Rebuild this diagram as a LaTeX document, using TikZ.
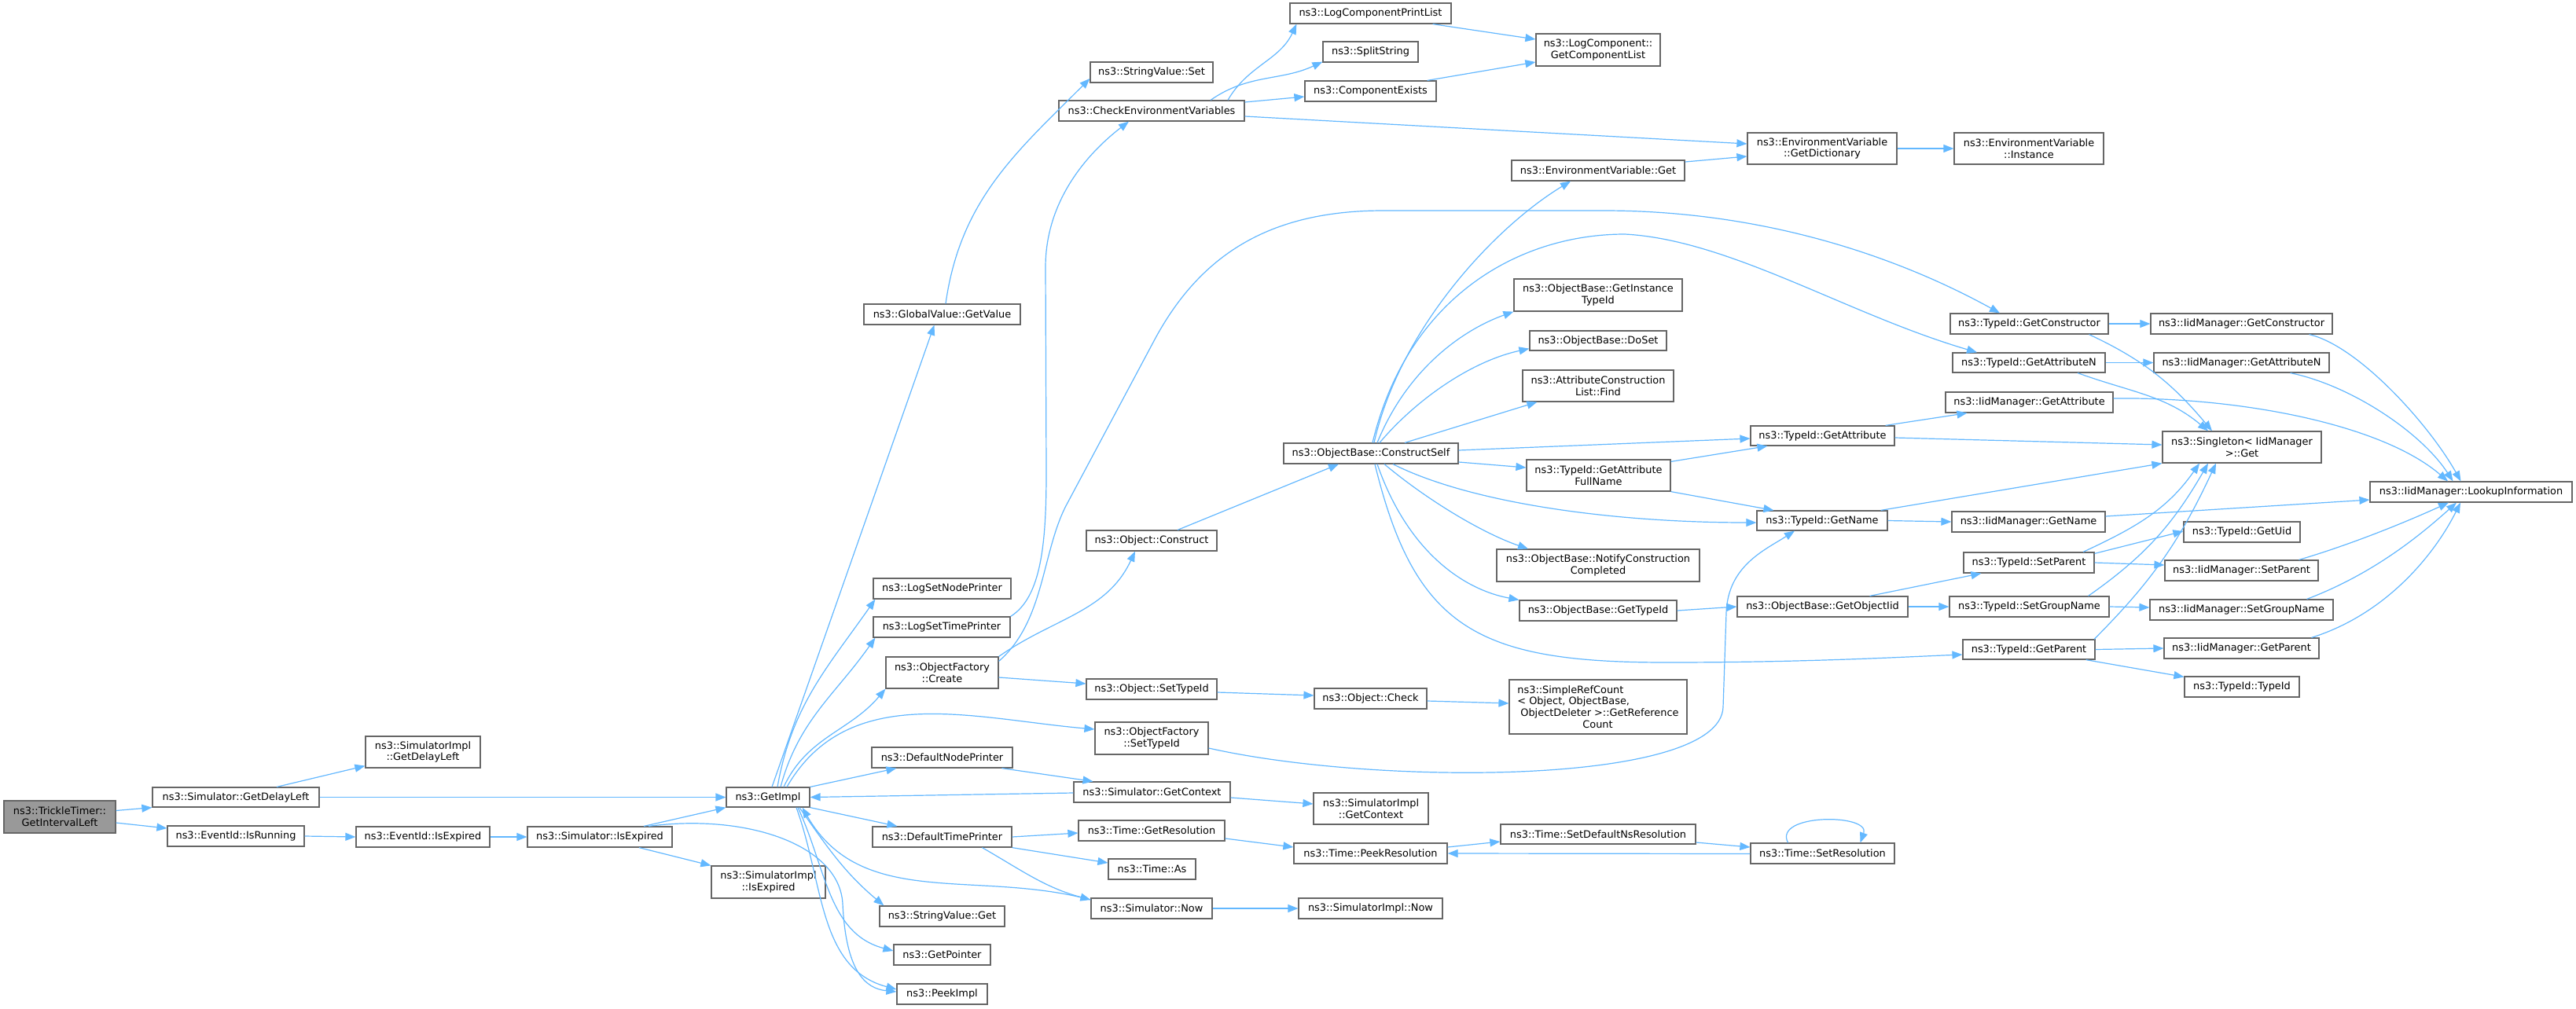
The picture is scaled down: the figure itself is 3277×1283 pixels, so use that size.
\documentclass[tikz,border=0pt]{standalone}
\usepackage{fontspec}
\setmainfont{DejaVu Sans}
\usetikzlibrary{arrows.meta}
\definecolor{edgec}{HTML}{63B8FF}
\definecolor{boxc}{HTML}{666666}
\definecolor{hlfill}{HTML}{999999}
\tikzset{
 nbox/.style={draw=boxc, fill=white, line width=1.2pt, inner sep=0pt, align=center, font=\fontsize{12.9}{14.7}\selectfont},
 cedge/.style={draw=edgec, line width=1.2pt, -{Triangle[length=13pt,width=10pt]}}
}
\newcommand\bx[7][]{\node[nbox,#1,minimum width={(#5)-(#3)},minimum height={(#6)-(#4)}] (#2) at ({((#3)+(#5))/2},{-((#4)+(#6))/2}) {#7};}
\begin{document}
\begin{tikzpicture}[x=1pt,y=1pt]
\useasboundingbox (0,0) rectangle (3277,-1283);
\fill[white] (0,0) rectangle (3277,-1283);
% nodes
\bx[fill=hlfill]{tt}{5}{1019}{147}{1060}{ns3::TrickleTimer::\\GetIntervalLeft}
\bx{sgdl}{194}{1002}{406}{1027}{ns3::Simulator::GetDelayLeft}
\bx{eir}{213}{1051}{387}{1077}{ns3::EventId::IsRunning}
\bx{sigdl}{465}{937}{611}{977}{ns3::SimulatorImpl\\::GetDelayLeft}
\bx{eie}{453}{1052}{623}{1078}{ns3::EventId::IsExpired}
\bx{sie}{671}{1052}{855}{1078}{ns3::Simulator::IsExpired}
\bx{gi}{924}{1002}{1030}{1027}{ns3::GetImpl}
\bx{siie}{905}{1102}{1050}{1143}{ns3::SimulatorImpl\\::IsExpired}
\bx{ofc}{1127}{836}{1270}{876}{ns3::ObjectFactory\\::Create}
\bx{ost}{1382}{864}{1548}{890}{ns3::Object::SetTypeId}
\bx{oc}{1672}{876}{1815}{902}{ns3::Object::Check}
\bx{ofst}{1393}{919}{1537}{960}{ns3::ObjectFactory\\::SetTypeId}
\bx{dnp}{1109}{951}{1288}{977}{ns3::DefaultNodePrinter}
\bx{sgc}{1366}{995}{1565}{1021}{ns3::Simulator::GetContext}
\bx{sigc}{1671}{1009}{1817}{1049}{ns3::SimulatorImpl\\::GetContext}
\bx{dtp}{1110}{1052}{1287}{1078}{ns3::DefaultTimePrinter}
\bx{tgr}{1372}{1044}{1558}{1070}{ns3::Time::GetResolution}
\bx{tpr}{1646}{1073}{1841}{1099}{ns3::Time::PeekResolution}
\bx{tas}{1410}{1093}{1521}{1119}{ns3::Time::As}
\bx{sn}{1388}{1143}{1542}{1169}{ns3::Simulator::Now}
\bx{sin}{1652}{1143}{1835}{1169}{ns3::SimulatorImpl::Now}
\bx{svg}{1119}{1153}{1278}{1179}{ns3::StringValue::Get}
\bx{gp}{1137}{1202}{1260}{1228}{ns3::GetPointer}
\bx{pi}{1141}{1252}{1256}{1278}{ns3::PeekImpl}
\bx{lcpl}{1641}{4}{1846}{30}{ns3::LogComponentPrintList}
\bx{ss}{1683}{53}{1804}{79}{ns3::SplitString}
\bx{lcgcl}{1954}{43}{2112}{84}{ns3::LogComponent::\\GetComponentList}
\bx{svs}{1387}{79}{1543}{105}{ns3::StringValue::Set}
\bx{ce}{1660}{103}{1827}{129}{ns3::ComponentExists}
\bx{cev}{1347}{128}{1583}{154}{ns3::CheckEnvironmentVariables}
\bx{evg}{1923}{204}{2143}{230}{ns3::EnvironmentVariable::Get}
\bx{evgd}{2223}{169}{2413}{209}{ns3::EnvironmentVariable\\::GetDictionary}
\bx{evi}{2486}{169}{2676}{209}{ns3::EnvironmentVariable\\::Instance}
\bx{obgit}{1926}{355}{2140}{396}{ns3::ObjectBase::GetInstance\\TypeId}
\bx{obds}{1946}{421}{2120}{446}{ns3::ObjectBase::DoSet}
\bx{gvgv}{1099}{387}{1298}{413}{ns3::GlobalValue::GetValue}
\bx{tgc}{2481}{399}{2682}{425}{ns3::TypeId::GetConstructor}
\bx{igc}{2736}{399}{2967}{425}{ns3::IidManager::GetConstructor}
\bx{tgan}{2484}{449}{2678}{474}{ns3::TypeId::GetAttributeN}
\bx{igan}{2740}{449}{2963}{474}{ns3::IidManager::GetAttributeN}
\bx{lsnp}{1111}{736}{1286}{762}{ns3::LogSetNodePrinter}
\bx{lstp}{1111}{785}{1285}{811}{ns3::LogSetTimePrinter}
\bx{ocon}{1382}{675}{1548}{701}{ns3::Object::Construct}
\bx{obcs}{1633}{564}{1855}{590}{ns3::ObjectBase::ConstructSelf}
\bx{acl}{1937}{471}{2129}{511}{ns3::AttributeConstruction\\List::Find}
\bx{tga}{2227}{542}{2410}{567}{ns3::TypeId::GetAttribute}
\bx{tgafn}{1942}{585}{2125}{625}{ns3::TypeId::GetAttribute\\FullName}
\bx{tgn}{2235}{650}{2401}{675}{ns3::TypeId::GetName}
\bx{obncc}{1904}{699}{2162}{740}{ns3::ObjectBase::NotifyConstruction\\Completed}
\bx{obgt}{1933}{764}{2133}{790}{ns3::ObjectBase::GetTypeId}
\bx{obgo}{2210}{759}{2427}{785}{ns3::ObjectBase::GetObjectIid}
\bx[align=left]{srcc}{1920}{865}{2146}{934}{ns3::SimpleRefCount\\< Object, ObjectBase,\\\hspace*{4pt}ObjectDeleter >::GetReference\\\hspace*{83pt}Count}
\bx{iga}{2475}{499}{2688}{525}{ns3::IidManager::GetAttribute}
\bx{sgt}{2751}{549}{2953}{589}{ns3::Singleton< IidManager\\ >::Get}
\bx{ili}{3015}{613}{3272}{639}{ns3::IidManager::LookupInformation}
\bx{ign}{2483}{651}{2678}{677}{ns3::IidManager::GetName}
\bx{tgu}{2778}{664}{2926}{690}{ns3::TypeId::GetUid}
\bx{tsp}{2498}{703}{2664}{729}{ns3::TypeId::SetParent}
\bx{isp}{2754}{713}{2949}{739}{ns3::IidManager::SetParent}
\bx{tsgn}{2480}{759}{2683}{785}{ns3::TypeId::SetGroupName}
\bx{isgn}{2735}{763}{2968}{789}{ns3::IidManager::SetGroupName}
\bx{tgp}{2497}{814}{2665}{839}{ns3::TypeId::GetParent}
\bx{igp}{2753}{812}{2950}{838}{ns3::IidManager::GetParent}
\bx{tti}{2779}{861}{2925}{887}{ns3::TypeId::TypeId}
\bx{tsdnr}{1909}{1049}{2157}{1074}{ns3::Time::SetDefaultNsResolution}
\bx{tsr}{2227}{1073}{2410}{1099}{ns3::Time::SetResolution}
% edges
\draw[cedge] ([yshift=8pt]tt.east) -- (sgdl.south west);
\draw[cedge] ([yshift=-7.5pt]tt.east) -- ([yshift=10pt]eir.west);
\draw[cedge] ([xshift=52pt]sgdl.north) -- ([yshift=3pt]sigdl.south west);
\draw[cedge] (sgdl.east) -- (gi.west);
\draw[cedge] (eir.east) -- (eie.west);
\draw[cedge] (eie.east) -- (sie.west);
\draw[cedge] ([xshift=56pt]sie.north) -- (gi.south west);
\draw[cedge] ([xshift=50pt]sie.south) -- (siie.north west);
\draw[cedge] ([xshift=62pt]sie.north) .. controls (950,-1035) and (1068,-1075) .. (1072,-1150) .. controls (1076,-1235) and (1100,-1258) .. ([yshift=3pt]pi.west);
\draw[cedge] ([xshift=5pt]gi.north) -- ([xshift=-10pt]gvgv.south);
\draw[cedge] ([xshift=12pt]gi.north) to[out=80,in=235] ([xshift=3pt]lsnp.south west);
\draw[cedge] ([xshift=16pt]gi.north) to[out=75,in=235] ([xshift=3pt]lstp.south west);
\draw[cedge] ([xshift=20pt]gi.north) to[out=65,in=230] (ofc.south west);
\draw[cedge] ([xshift=24pt]gi.north) to[out=60,in=175] ([yshift=11.5pt]ofst.west);
\draw[cedge] (gi.north east) -- ([xshift=32pt]dnp.south west);
\draw[cedge] (gi.south east) -- ([xshift=32pt]dtp.north west);
\draw[cedge] ([xshift=40pt]gi.south) to[out=-55,in=140] ([xshift=6pt]svg.north west);
\draw[cedge] ([xshift=38pt]gi.south) to[out=-65,in=165] ([yshift=5pt]gp.west);
\draw[cedge] ([xshift=36pt]gi.south) to[out=-70,in=165] ([yshift=6pt]pi.west);
\draw[cedge] ([yshift=-1pt]sgc.west) -- (gi.east);
\draw[cedge] ([yshift=11pt]sn.west) to[out=165,in=-60] ([xshift=-10pt]gi.south east);
\draw[cedge] ([xshift=76pt]dnp.south) -- ([xshift=-75pt]sgc.north);
\draw[cedge] ([yshift=-7pt]sgc.east) -- ([yshift=6pt]sigc.west);
\draw[cedge] (dtp.east) -- ([yshift=-3pt]tgr.west);
\draw[cedge] (dtp.south east) -- ([yshift=8pt]tas.west);
\draw[cedge] ([xshift=51pt]dtp.south) to[out=-30,in=165] ([yshift=11pt]sn.west);
\draw[cedge] ([yshift=-10pt]tgr.east) -- ([yshift=8pt]tpr.west);
\draw[cedge] (sn.east) -- (sin.west);
\draw[cedge] ([yshift=8pt]tpr.east) -- ([yshift=-9.5pt]tsdnr.west);
\draw[cedge] ([yshift=-10.5pt]tsdnr.east) -- ([yshift=8pt]tsr.west);
\draw[cedge] ([yshift=-0.5pt]tsr.west) -- (tpr.east);
\draw[cedge] ([xshift=-44pt]tsr.north) .. controls (2255,-1035) and (2380,-1035) .. ([xshift=48pt]tsr.north);
\draw[cedge] ([yshift=-6pt]ofc.east) -- ([yshift=7pt]ost.west);
\draw[cedge] ([yshift=-4pt]ost.east) -- ([yshift=4pt]oc.west);
\draw[cedge] ([yshift=-3pt]oc.east) -- ([yshift=4.5pt]srcc.west);
\draw[cedge] (ofc.north east) to[out=35,in=-115] ([xshift=-21pt]ocon.south);
\draw[cedge] ([yshift=-6pt]ofc.north east) .. controls (1330,-790) and (1325,-700) .. (1358,-640) -- (1470,-430) .. controls (1530,-320) and (1620,-268) .. (1760,-268) -- (2040,-268) .. controls (2250,-268) and (2420,-330) .. ([xshift=-37.5pt]tgc.north);
\draw[cedge] (lstp.north east) .. controls (1325,-760) and (1331,-690) .. (1331,-600) -- (1330,-340) .. controls (1330,-250) and (1390,-190) .. ([xshift=-29pt]cev.south);
\draw[cedge] ([xshift=4.5pt]gvgv.north) to[out=82,in=225] ([yshift=-8pt]svs.west);
\draw[cedge] ([xshift=97pt]cev.north) to[out=60,in=245] ([xshift=9pt]lcpl.south west);
\draw[cedge] ([xshift=75pt]cev.north) to[out=35,in=205] ([yshift=1pt]ss.south west);
\draw[cedge] ([yshift=11pt]cev.east) -- ([yshift=-7pt]ce.west);
\draw[cedge] ([yshift=-7pt]cev.east) -- ([yshift=6pt]evgd.west);
\draw[cedge] ([xshift=-24pt]lcpl.south east) -- ([yshift=13.5pt]lcgcl.west);
\draw[cedge] ([xshift=-12pt]ce.north east) -- ([yshift=-15.5pt]lcgcl.west);
\draw[cedge] ([yshift=11pt]evg.east) -- ([yshift=-10pt]evgd.west);
\draw[cedge] (evgd.east) -- (evi.west);
\draw[cedge] ([xshift=4pt]obcs.north) .. controls (1780,-420) and (1900,-290) .. ([xshift=-35pt]evg.south);
\draw[cedge] ([xshift=8pt]obcs.north) .. controls (1790,-470) and (1860,-420) .. (obgit.south west);
\draw[cedge] ([xshift=11pt]obcs.north) .. controls (1800,-510) and (1870,-460) .. ([yshift=3pt]obds.south west);
\draw[cedge] ([xshift=43pt]obcs.north) -- ([xshift=19pt]acl.south west);
\draw[cedge] ([yshift=4pt]obcs.east) -- ([yshift=-3.5pt]tga.west);
\draw[cedge] ([yshift=-11pt]obcs.east) -- ([yshift=10pt]tgafn.west);
\draw[cedge] ([xshift=28pt]obcs.south) .. controls (1870,-640) and (2050,-665) .. ([yshift=-2.5pt]tgn.west);
\draw[cedge] ([xshift=17pt]obcs.south) .. controls (1820,-640) and (1890,-680) .. ([xshift=-89pt]obncc.north);
\draw[cedge] ([xshift=8pt]obcs.south) .. controls (1790,-700) and (1860,-750) .. (obgt.north west);
\draw[cedge] ([xshift=5pt]obcs.south) .. controls (1800,-800) and (1880,-843) .. (2120,-843) .. controls (2300,-843) and (2420,-836) .. ([yshift=-6.5pt]tgp.west);
\draw[cedge] ([xshift=2pt]obcs.north) .. controls (1790,-380) and (1930,-298) .. (2067,-298) .. controls (2200,-305) and (2350,-400) .. ([xshift=-66pt]tgan.north);
\draw[cedge] ([xshift=33pt]ocon.north) -- ([xshift=-41pt]obcs.south);
\draw[cedge] ([yshift=-12.5pt]ofst.east) .. controls (1750,-1000) and (2188,-1000) .. (2192,-900) -- (2196,-780) .. controls (2198,-720) and (2245,-700) .. ([xshift=-35pt]tgn.south);
\draw[cedge] ([yshift=-2.5pt]tga.east) -- ([yshift=3pt]sgt.west);
\draw[cedge] ([xshift=-12pt]tga.north east) -- ([xshift=28pt]iga.south west);
\draw[cedge] ([yshift=-3pt]tgafn.north east) -- ([xshift=22pt]tga.south west);
\draw[cedge] (tgafn.south east) -- ([xshift=22pt]tgn.north west);
\draw[cedge] ([xshift=-9pt]tgn.north east) -- (sgt.south west);
\draw[cedge] (tgn.east) -- (ign.west);
\draw[cedge] (obgt.east) -- (obgo.west);
\draw[cedge] ([xshift=60pt]obgo.north) -- ([xshift=23pt]tsp.south west);
\draw[cedge] (obgo.east) -- (tsgn.west);
\draw[cedge] (tgc.east) -- (igc.west);
\draw[cedge] (tgan.east) -- (igan.west);
\draw[cedge] ([xshift=76pt]tgc.south) to[out=-25,in=130] ([xshift=-38pt]sgt.north);
\draw[cedge] ([xshift=62pt]tgan.south) to[out=-20,in=140] ([xshift=-43pt]sgt.north);
\draw[cedge] ([yshift=5pt]iga.east) .. controls (2850,-505) and (3030,-540) .. ([xshift=-29.5pt]ili.north);
\draw[cedge] ([xshift=86pt]igc.south) .. controls (3000,-440) and (3090,-540) .. ([xshift=-13pt]ili.north);
\draw[cedge] ([xshift=62pt]igan.south) .. controls (2990,-490) and (3080,-550) .. ([xshift=-23pt]ili.north);
\draw[cedge] ([yshift=7pt]ign.east) -- ([yshift=-10pt]ili.west);
\draw[cedge] ([xshift=73pt]isp.north) .. controls (3000,-690) and (3070,-660) .. ([xshift=-28.5pt]ili.south);
\draw[cedge] ([xshift=83pt]isgn.north) .. controls (3020,-730) and (3080,-680) .. ([xshift=-18.5pt]ili.south);
\draw[cedge] ([xshift=89pt]igp.north) .. controls (3040,-780) and (3100,-700) .. ([xshift=-13.5pt]ili.south);
\draw[cedge] ([yshift=-2pt]tsp.north east) -- ([yshift=1pt]tgu.west);
\draw[cedge] (tsp.east) -- ([yshift=7pt]isp.west);
\draw[cedge] (tsgn.east) -- ([yshift=3pt]isgn.west);
\draw[cedge] (tgp.east) -- (igp.west);
\draw[cedge] ([xshift=-12pt]tgp.south east) -- ([yshift=-1pt]tti.north west);
\draw[cedge] ([xshift=69pt]tsp.north) to[out=25,in=-125] ([xshift=-54pt]sgt.south);
\draw[cedge] ([xshift=75pt]tsgn.north) to[out=35,in=-120] ([xshift=-43pt]sgt.south);
\draw[cedge] ([xshift=83pt]tgp.north) to[out=45,in=-115] ([xshift=-33pt]sgt.south);
\end{tikzpicture}
\end{document}
